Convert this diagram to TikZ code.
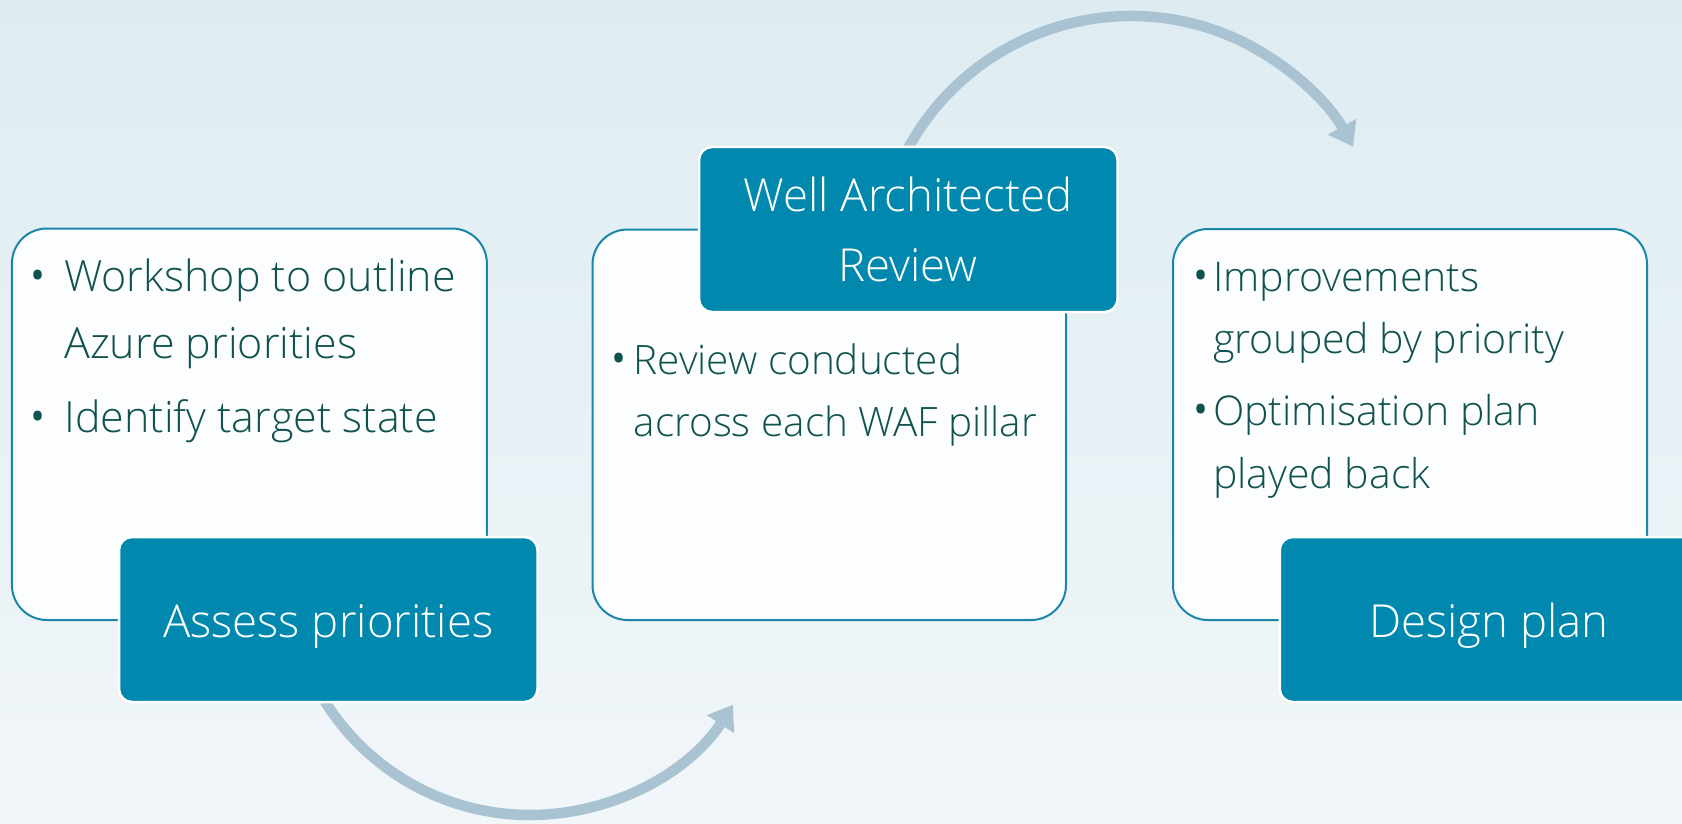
\documentclass[tikz,border=0pt]{standalone}
\usepackage{fontspec}
\setmainfont{Open Sans}[UprightFont={* Light}]
\usetikzlibrary{arrows.meta}
\definecolor{bgtop}{RGB}{222,236,241}
\definecolor{bgbot}{RGB}{241,246,249}
\definecolor{teal}{RGB}{0,136,174}
\definecolor{tealline}{RGB}{26,134,168}
\definecolor{txt}{RGB}{16,82,80}
\definecolor{arcc}{RGB}{169,195,210}
\definecolor{card}{RGB}{252,253,254}
\newcommand{\bigbul}{\raisebox{-4pt}{\fontsize{56}{64}\selectfont •}}
\tikzset{
  card/.style={draw=tealline, line width=2pt, fill=card, rounded corners=35pt, inner sep=0pt},
  title/.style={draw=white, line width=2.5pt, fill=teal, rounded corners=13pt, inner sep=0pt,
    text=white, font=\fontsize{45.5}{70}\selectfont, align=center},
  onetitle/.style={title, text height=35pt, text depth=0pt},
  bodyA/.style={text=txt, font=\fontsize{43}{64}\selectfont, anchor=base west, inner sep=0pt},
  bodyB/.style={text=txt, font=\fontsize{40.5}{64}\selectfont, anchor=base west, inner sep=0pt},
  bodyC/.style={text=txt, font=\fontsize{41}{64}\selectfont, anchor=base west, inner sep=0pt},
  flow/.style={draw=arcc, line width=10.5pt, -{Triangle[length=23pt,width=31pt]}}
}
\begin{document}
\begin{tikzpicture}[x=1pt,y=1pt]
\useasboundingbox (0,0) rectangle (1682,-824);
\clip (0,0) rectangle (1682,-824);
\shade[top color=bgtop, bottom color=bgbot] (0,0) rectangle (1682,-824);
% arcs
\coordinate (cb) at (530,-573);
\coordinate (ct) at (1131,-270);
\draw[flow] (cb) ++(212:242) arc[start angle=212, end angle=327, radius=242];
\draw[flow] (ct) ++(152:254) arc[start angle=152, end angle=29, radius=254];
% cards
\node[card, minimum width=475pt, minimum height=391.5pt] (c1) at (249.4,-424.25) {};
\node[card, minimum width=473.5pt, minimum height=390.5pt] (c2) at (829.25,-424.75) {};
\node[card, minimum width=474pt, minimum height=391pt] (c3) at (1410,-424.5) {};
% titles
\node[onetitle, minimum width=418.5pt, minimum height=165pt] (t1) at (328.25,-619.5) {Assess priorities};
\node[title, minimum width=418.5pt, minimum height=165pt] (t2) at (908.25,-229.5) {Well Architected\\Review};
\node[onetitle, minimum width=418.5pt, minimum height=165pt] (t3) at (1489,-619.5) {Design plan};
% card 1 text
\node[bodyA] (b11) at (27,-291) {\bigbul};
\node[bodyA] (x11a) at (64,-291) {Workshop to outline};
\node[bodyA] (x11b) at (64,-358) {Azure priorities};
\node[bodyA] (b12) at (27,-432) {\bigbul};
\node[bodyA] (x12) at (64,-432) {Identify target state};
% card 2 text
\node[bodyB] (b21) at (608,-374) {\bigbul};
\node[bodyB] (x21a) at (633.5,-374) {Review conducted};
\node[bodyB] (x21b) at (633.5,-436) {across each WAF pillar};
% card 3 text
\node[bodyC] (b31) at (1190,-291) {\bigbul};
\node[bodyC] (x31a) at (1213,-291) {Improvements};
\node[bodyC] (x31b) at (1213,-353) {grouped by priority};
\node[bodyC] (b32) at (1190,-425) {\bigbul};
\node[bodyC] (x32a) at (1213,-425) {Optimisation plan};
\node[bodyC] (x32b) at (1213,-488) {played back};
\end{tikzpicture}
\end{document}
